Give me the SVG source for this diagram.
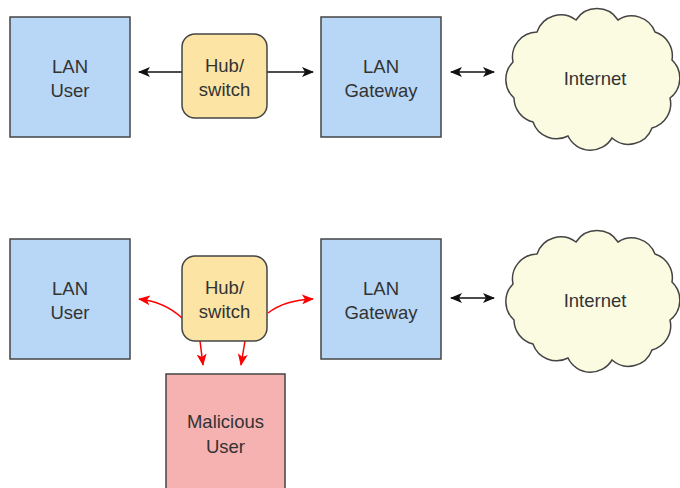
<svg xmlns="http://www.w3.org/2000/svg" width="680" height="488" viewBox="0 0 680 488">
<defs>
<marker id="ab" viewBox="0 0 12 10" refX="11" refY="5" markerWidth="12" markerHeight="10" markerUnits="userSpaceOnUse" orient="auto-start-reverse">
<path d="M0,0 L12,5 L0,10 L3,5 Z" fill="#111"/>
</marker>
<marker id="ar" viewBox="0 0 12 10" refX="11" refY="5" markerWidth="12" markerHeight="10" markerUnits="userSpaceOnUse" orient="auto">
<path d="M0,0 L12,5 L0,10 L3,5 Z" fill="#f00"/>
</marker>
<path id="cloud" d="M513,62 A25,25 0 0 1 537,32 A25,25 0 0 1 576,20 A25,25 0 0 1 618,20 A25,25 0 0 1 655,32 A25,25 0 0 1 672,60 A25,25 0 0 1 670,98 A25,25 0 0 1 652,128 A25,25 0 0 1 612,138 A25,25 0 0 1 568,136 A25,25 0 0 1 533,122 A25,25 0 0 1 514,98 A25,25 0 0 1 513,62 Z"/>
</defs>
<style>
text{font-family:"Liberation Sans",Arial,sans-serif;font-size:18.5px;fill:#333;text-anchor:middle}
.box{stroke:#444;stroke-width:1.5}
.blue{fill:#b8d7f6}
.hub{fill:#fbe4a4}
.mal{fill:#f6b1b1}
.cl{fill:#fbfbe2;stroke:#444;stroke-width:1.5}
.ln{fill:none;stroke:#111;stroke-width:1.5}
.rd{fill:none;stroke:#f00;stroke-width:1.5}
</style>
<rect width="680" height="488" fill="#fff"/>
<g id="connectors">
<line class="ln" x1="182" y1="72" x2="139" y2="72" marker-end="url(#ab)"/>
<line class="ln" x1="267" y1="72" x2="313" y2="72" marker-end="url(#ab)"/>
<line class="ln" x1="451" y1="72" x2="494" y2="72" marker-start="url(#ab)" marker-end="url(#ab)"/>
<line class="ln" x1="451" y1="298" x2="494" y2="298" marker-start="url(#ab)" marker-end="url(#ab)"/>
<path class="rd" d="M182,318 Q165,302 139,299" marker-end="url(#ar)"/>
<path class="rd" d="M268,313 Q285,300 313,299" marker-end="url(#ar)"/>
<path class="rd" d="M200,341 L203,365" marker-end="url(#ar)"/>
<path class="rd" d="M245,341 L241,365" marker-end="url(#ar)"/>
</g>
<g id="lan-user-1"><rect class="box blue" x="10" y="17" width="120" height="120"/><text x="70" y="73">LAN</text><text x="70" y="97">User</text></g>
<g id="hub-1"><rect class="box hub" x="182" y="34" width="85" height="84" rx="13"/><text x="224.5" y="72">Hub/</text><text x="224.5" y="96">switch</text></g>
<g id="gateway-1"><rect class="box blue" x="321" y="17" width="120" height="120"/><text x="381" y="73">LAN</text><text x="381" y="97">Gateway</text></g>
<g id="internet-1"><use href="#cloud" class="cl"/><text x="595" y="85">Internet</text></g>
<g id="lan-user-2"><rect class="box blue" x="10" y="239" width="120" height="120"/><text x="70" y="295">LAN</text><text x="70" y="319">User</text></g>
<g id="hub-2"><rect class="box hub" x="182" y="256" width="85" height="85" rx="13"/><text x="224.5" y="294">Hub/</text><text x="224.5" y="318">switch</text></g>
<g id="gateway-2"><rect class="box blue" x="321" y="239" width="120" height="120"/><text x="381" y="295">LAN</text><text x="381" y="319">Gateway</text></g>
<g id="internet-2"><use href="#cloud" class="cl" transform="translate(0,222)"/><text x="595" y="307">Internet</text></g>
<g id="malicious-user"><rect class="box mal" x="166" y="374" width="119" height="120"/><text x="225.5" y="428">Malicious</text><text x="225.5" y="453">User</text></g>
</svg>
